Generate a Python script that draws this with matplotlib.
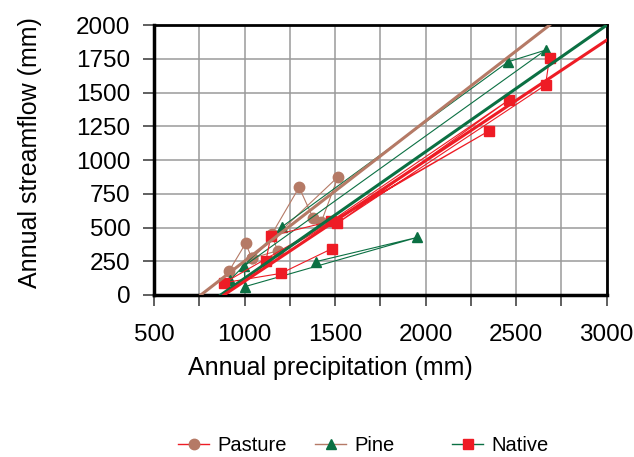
import matplotlib
matplotlib.use('Agg')
import matplotlib.pyplot as plt
from matplotlib.lines import Line2D
from matplotlib.ticker import MultipleLocator

plt.rcParams['font.family'] = ['Liberation Sans', 'DejaVu Sans']

# colours
BROWN = '#B57A66'
GREEN = '#0B7043'
RED = '#EE1C25'

# Pasture catchments (precipitation mm, streamflow mm), in plotting order
pasture_p = [915, 1006, 1040, 1182, 1150, 1301, 1379, 1424, 1516, 1040]
pasture_q = [180, 383, 272, 328, 450, 798, 568, 543, 876, 272]

# Pine catchments
pine_p = [919, 1207, 2455, 2662, 998, 1002, 1954, 1393]
pine_q = [111, 506, 1728, 1815, 215, 62, 427, 247]

# Native catchments
native_p = [2684, 2662, 1511, 2458, 1479, 1145, 1118, 2348, 888, 1200, 1480]
native_q = [1760, 1556, 531, 1444, 548, 437, 254, 1215, 91, 160, 342]

# fitted lines (end points)
fit_pasture_p = [758, 2684]
fit_pasture_q = [0, 2000]
fit_pine_p = [868, 3000]
fit_pine_q = [0, 2000]
fit_native_p = [886, 3000]
fit_native_q = [0, 1889]

fig = plt.figure(figsize=(6.34, 4.57), dpi=100)
ax = fig.add_axes([0.243, 0.3545, 0.714, 0.5905])

ax.plot(pasture_p, pasture_q, color=BROWN, lw=0.8, marker='o', ms=7.5,
        mfc=BROWN, mec=BROWN, zorder=3)
ax.plot(pine_p, pine_q, color=GREEN, lw=0.8, marker='^', ms=7.5,
        mfc=GREEN, mec=GREEN, zorder=3)
ax.plot(native_p, native_q, color=RED, lw=0.8, marker='s', ms=7.5,
        mfc=RED, mec=RED, zorder=3)

ax.plot(fit_pasture_p, fit_pasture_q, color=BROWN, lw=2.2, zorder=4)
ax.plot(fit_pine_p, fit_pine_q, color=GREEN, lw=2.2, zorder=4)
ax.plot(fit_native_p, fit_native_q, color=RED, lw=2.2, zorder=4)

ax.set_xlim(500, 3000)
ax.set_ylim(0, 2000)
ax.xaxis.set_major_locator(MultipleLocator(500))
ax.xaxis.set_minor_locator(MultipleLocator(250))
ax.yaxis.set_major_locator(MultipleLocator(250))
ax.grid(True, which='both', color='#9a9a9a', lw=1.1, zorder=0)
ax.set_axisbelow(True)

ax.tick_params(axis='both', which='both', direction='out', length=8,
               width=1.2, colors='#444444', labelcolor='black', labelsize=17.5)
ax.tick_params(axis='x', which='major', pad=13)
ax.tick_params(axis='y', pad=9)
for s in ax.spines.values():
    s.set_color('black')
    s.set_linewidth(2)
ax.spines['left'].set_linewidth(2.5)
ax.spines['bottom'].set_linewidth(2.5)

ax.set_xlabel('Annual precipitation (mm)', fontsize=18)
ax.set_ylabel('Annual streamflow (mm)', fontsize=18)
ax.xaxis.set_label_coords(0.389, -0.225)
ax.yaxis.set_label_coords(-0.247, 0.526)

# legend: one entry per box, so the uneven spacing of the original is kept
legend_items = [
    ('Pasture', RED, 'o', BROWN, 0.281),
    ('Pine', BROWN, '^', GREEN, 0.497),
    ('Native', GREEN, 's', RED, 0.713),
]
for label, line_col, mk, mk_col, x0 in legend_items:
    h = Line2D([], [], color=line_col, lw=1, marker=mk, ms=7.5,
               mfc=mk_col, mec=mk_col)
    fig.legend([h], [label], loc='center left', bbox_to_anchor=(x0, 0.026),
               frameon=False, fontsize=14.5, handlelength=1.55,
               handletextpad=0.4, borderpad=0, borderaxespad=0)

fig.savefig('out.png', dpi=100)
